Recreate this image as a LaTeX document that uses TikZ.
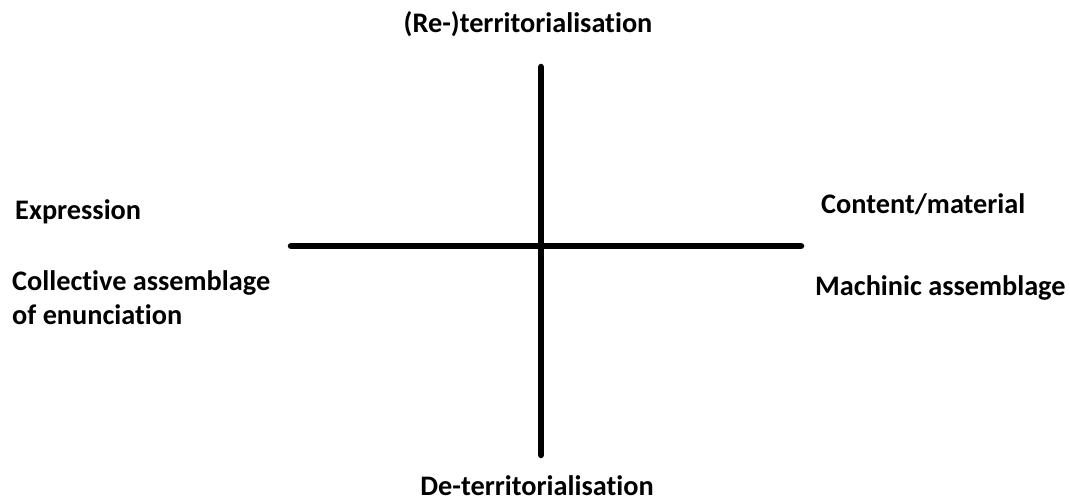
\documentclass[tikz,border=0pt]{standalone}
\usepackage{fontspec}
\setmainfont[Ligatures=NoCommon]{Carlito}
\tikzset{
  axis/.style={line width=6.5pt, line cap=round, black},
  lbl/.style={font=\fontsize{28.3}{34}\selectfont\bfseries, inner sep=0pt, text=black},
}
\begin{document}
\begin{tikzpicture}[x=1pt,y=-1pt]
\useasboundingbox (0,0) rectangle (1070,502);
\coordinate (vt) at (541,67);
\coordinate (vb) at (541,455);
\coordinate (hl) at (291,246);
\coordinate (hr) at (801,246);
\draw[axis] (vt) -- (vb);
\draw[axis] (hl) -- (hr);
\node[lbl, anchor=base] (top) at (528,33) {(Re-)territorialisation};
\node[lbl, anchor=base] (bot) at (537,495) {De-territorialisation};
\node[lbl, anchor=base west] (expr) at (15,220) {Expression};
\node[lbl, anchor=base west, align=left] (coll) at (12,325) {Collective assemblage\\[0pt]of enunciation};
\node[lbl, anchor=base west] (cont) at (821,214) {Content/material};
\node[lbl, anchor=base west] (mach) at (815,296) {Machinic assemblage};
\end{tikzpicture}
\end{document}
